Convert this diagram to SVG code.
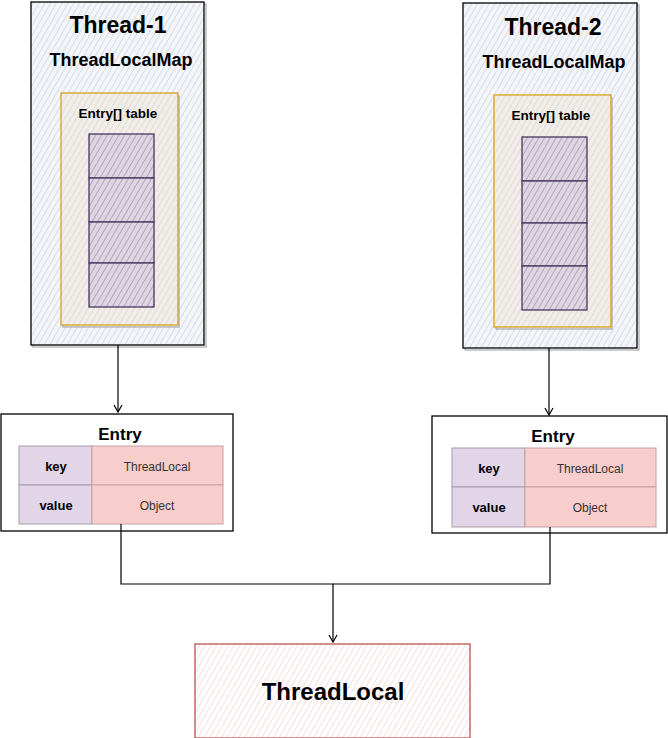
<svg xmlns="http://www.w3.org/2000/svg" width="668" height="738" viewBox="0 0 668 738">
<style>
text{font-family:"Liberation Sans",Arial,sans-serif;fill:#000;text-anchor:middle}
.title{font-size:23px;font-weight:bold}
.big{font-size:24px;font-weight:bold}
.map{font-size:18px;font-weight:bold}
.tbl{font-size:13.5px;font-weight:bold}
.entry{font-size:17px;font-weight:bold}
.kv{font-size:13px;font-weight:bold}
.val{font-size:12px;fill:#333}
.thread{fill:url(#hBlue);stroke:#000;stroke-width:1.3}
.orange{fill:url(#hOrange);stroke:#d6a21e;stroke-width:1.3}
.shadow{fill:none;stroke:#999;stroke-width:1}
.slot{fill:url(#hPurple);stroke:#4a3560;stroke-width:1.3}
.ebox{fill:#fff;stroke:#000;stroke-width:1.3}
.key{fill:#e1d5e7;stroke:#a89aa8;stroke-width:1}
.value{fill:#f8cecc;stroke:#c4a2a0;stroke-width:1}
.conn{fill:none;stroke:#000;stroke-width:1.2}
.tl{fill:url(#hRed);stroke:#b85450;stroke-width:1.3}
</style>
<defs>
<pattern id="hBlue" width="5" height="5" patternUnits="userSpaceOnUse" patternTransform="rotate(30)">
<rect width="5" height="5" fill="#f3f5f9"/>
<line x1="0" y1="0" x2="0" y2="5" stroke="#c8d0dc" stroke-width="1.3"/>
</pattern>
<pattern id="hOrange" width="5" height="5" patternUnits="userSpaceOnUse" patternTransform="rotate(30)">
<rect width="5" height="5" fill="#f1ede8"/>
<line x1="0" y1="0" x2="0" y2="5" stroke="#d8d2ce" stroke-width="1.3"/>
</pattern>
<pattern id="hPurple" width="5" height="5" patternUnits="userSpaceOnUse" patternTransform="rotate(30)">
<rect width="5" height="5" fill="#ddd6e0"/>
<line x1="0" y1="0" x2="0" y2="5" stroke="#9c8aa8" stroke-width="1.3"/>
</pattern>
<pattern id="hRed" width="5" height="5" patternUnits="userSpaceOnUse" patternTransform="rotate(30)">
<rect width="5" height="5" fill="#fff"/>
<line x1="0" y1="0" x2="0" y2="5" stroke="#f8d4d2" stroke-width="1.5"/>
</pattern>
<marker id="arr" markerWidth="10" markerHeight="10" refX="8" refY="5" orient="auto" markerUnits="userSpaceOnUse">
<path d="M1,1 L8,5 L1,9" fill="none" stroke="#000" stroke-width="1.2"/>
</marker>
</defs>

<g id="thread1">
<rect x="33" y="4" width="173" height="343" fill="none" stroke="#999" stroke-width="1"/>
<rect class="thread" x="31" y="2" width="173" height="343"/>
<text class="title" x="118" y="33">Thread-1</text>
<text class="map" x="121" y="66">ThreadLocalMap</text>
<rect class="shadow" x="63" y="96" width="116" height="231"/>
<rect class="orange" x="61" y="93" width="117" height="232"/>
<text class="tbl" x="118" y="118">Entry[] table</text>
<rect class="slot" x="89" y="134" width="65" height="44"/>
<rect class="slot" x="89" y="178" width="65" height="44"/>
<rect class="slot" x="89" y="222" width="65" height="41"/>
<rect class="slot" x="89" y="263" width="65" height="44"/>
</g>

<g id="thread2">
<rect x="465" y="5" width="174" height="345" fill="none" stroke="#999" stroke-width="1"/>
<rect class="thread" x="463" y="3" width="174" height="345"/>
<text class="title" x="553" y="35">Thread-2</text>
<text class="map" x="554" y="68">ThreadLocalMap</text>
<rect class="shadow" x="496" y="98" width="116" height="231"/>
<rect class="orange" x="494" y="95" width="117" height="232"/>
<text class="tbl" x="551" y="120">Entry[] table</text>
<rect class="slot" x="522" y="137" width="65" height="44"/>
<rect class="slot" x="522" y="181" width="65" height="42"/>
<rect class="slot" x="522" y="223" width="65" height="43"/>
<rect class="slot" x="522" y="266" width="65" height="44"/>
</g>

<g id="entry1">
<rect class="ebox" x="1" y="414" width="232" height="117"/>
<text class="entry" x="120" y="440">Entry</text>
<rect class="key" x="19" y="446" width="73" height="39"/>
<rect class="value" x="92" y="446" width="131" height="39"/>
<rect class="key" x="19" y="485" width="73" height="39"/>
<rect class="value" x="92" y="485" width="131" height="39"/>
<text class="kv" x="56" y="471">key</text>
<text class="val" x="157" y="471">ThreadLocal</text>
<text class="kv" x="56" y="510">value</text>
<text class="val" x="157" y="510">Object</text>
</g>

<g id="entry2">
<rect class="ebox" x="432" y="416" width="235" height="117"/>
<text class="entry" x="553" y="442">Entry</text>
<rect class="key" x="452" y="448" width="73" height="39"/>
<rect class="value" x="525" y="448" width="131" height="39"/>
<rect class="key" x="452" y="487" width="73" height="40"/>
<rect class="value" x="525" y="487" width="131" height="40"/>
<text class="kv" x="489" y="473">key</text>
<text class="val" x="590" y="473">ThreadLocal</text>
<text class="kv" x="489" y="512">value</text>
<text class="val" x="590" y="512">Object</text>
</g>

<g id="threadlocal">
<rect class="tl" x="195" y="644" width="275" height="94"/>
<text class="big" x="333" y="700">ThreadLocal</text>
</g>

<g id="connectors">
<path class="conn" d="M118,345 L118,412" marker-end="url(#arr)"/>
<path class="conn" d="M549,348 L549,415" marker-end="url(#arr)"/>
<path class="conn" d="M121,524 L121,584 L333,584 L333,642" marker-end="url(#arr)"/>
<path class="conn" d="M550,527 L550,584 L333,584"/>
</g>
</svg>
